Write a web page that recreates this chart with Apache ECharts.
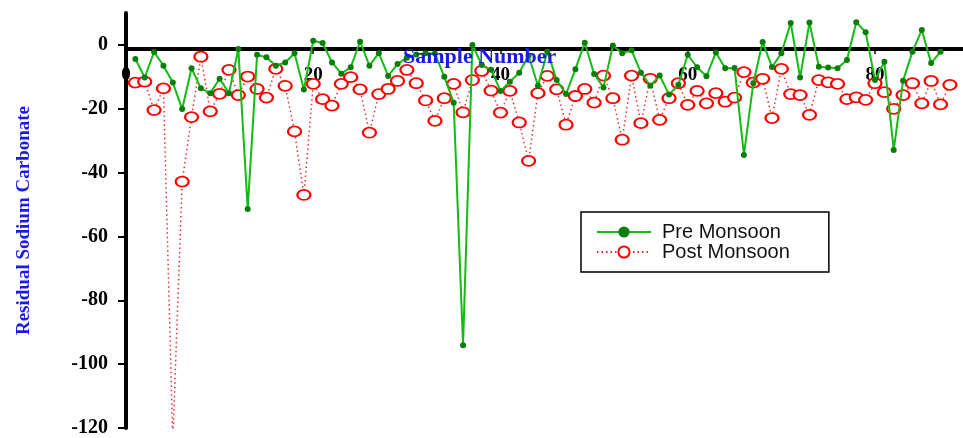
<!DOCTYPE html>
<html>
<head>
<meta charset="utf-8">
<script src="https://cdn.jsdelivr.net/npm/echarts@6/dist/echarts.min.js"></script>
<style>html,body{margin:0;padding:0;background:#fff}#c{width:963px;height:438px}</style>
</head>
<body>
<div id="c"></div>
<script>
// Residual Sodium Carbonate values (sample 1..n)
const preMonsoon = [
  -4.4, -10.2, -2.2, -6.5, -11.8, -20.1, -7.3, -13.6, -15.1, -10.6,
  -15.1, -1.3, -51.4, -3.1, -3.9, -6.5, -5.5, -2.6, -14.0, 1.3,
  0.6, -5.5, -9.0, -7.0, 1.0, -6.5, -2.6, -9.7, -6.0, -4.0,
  -3.0, -2.6, -2.7, -10.0, -18.1, -94.1, 0.0, -6.3, -7.8, -14.4,
  -11.5, -8.7, -3.3, -12.8, -2.1, -11.0, -15.4, -7.6, 0.7, -9.1,
  -13.3, -0.2, -2.6, -1.7, -8.7, -12.8, -9.6, -15.5, -12.5, -3.1,
  -7.0, -9.8, -2.4, -7.3, -7.2, -34.5, -12.0, 0.9, -6.9, -2.6,
  6.9, -10.2, 7.0, -6.8, -7.1, -7.3, -4.7, 7.1, 4.0, -11.0,
  -5.3, -32.9, -11.2, -2.1, 4.7, -5.7, -2.1
];
const postMonsoon = [
  -11.8, -11.5, -20.4, -13.6, -124, -42.8, -22.6, -3.7, -20.8, -15.3,
  -7.8, -15.7, -9.9, -13.8, -16.5, -7.5, -12.8, -27.1, -47.0, -12.2,
  -17.0, -19.0, -12.2, -10.1, -13.9, -27.5, -15.4, -13.8, -11.3, -7.8,
  -12.0, -17.4, -23.8, -16.7, -12.2, -21.1, -11.0, -8.1, -14.3, -21.2,
  -14.4, -24.3, -36.3, -15.1, -9.7, -13.9, -25.0, -16.0, -13.8, -18.1,
  -9.6, -16.7, -29.7, -9.6, -24.5, -10.6, -23.5, -16.7, -12.0, -18.8,
  -14.4, -18.3, -15.1, -17.8, -16.5, -8.5, -11.8, -10.6, -22.9, -7.5,
  -15.4, -15.7, -21.9, -11.0, -11.7, -12.2, -17.0, -16.4, -17.2, -12.0,
  -14.8, -20.0, -15.7, -12.0, -18.3, -11.3, -18.6, -12.5
];
const xTickLabels = [0, 20, 40, 60, 80];
const yTickLabels = [-120, -100, -80, -60, -40, -20, 0];

const toPairs = arr => arr.map((v, i) => [i + 1, v]);

const chart = echarts.init(document.getElementById('c'), null, {renderer: 'canvas'});
chart.setOption({
  animation: false,
  backgroundColor: '#ffffff',
  grid: {left: 126, right: 0, top: 13, bottom: 9.7, containLabel: false},
  title: {
    text: 'Sample Number',
    left: 398, top: 41,
    textStyle: {fontFamily: 'Liberation Serif', fontWeight: 'bold', fontSize: 22, color: '#1a1ae0'}
  },
  legend: {
    orient: 'vertical',
    left: 581, top: 212,
    padding: [10, 39, 10, 15],
    itemWidth: 54, itemHeight: 14, itemGap: 0,
    borderColor: '#000', borderWidth: 1.5,
    backgroundColor: '#fff',
    textStyle: {fontFamily: 'Liberation Sans', fontSize: 20, color: '#111', lineHeight: 20, padding: [0, 0, 0, 6]},
    data: ['Pre Monsoon', 'Post Monsoon']
  },
  xAxis: {
    type: 'value',
    position: 'top',
    offset: -36,
    min: 0, max: 89.4, interval: 20,
    splitLine: {show: false},
    axisLine: {onZero: false, lineStyle: {color: '#000', width: 4}},
    axisTick: {inside: true, length: 5, lineStyle: {color: '#000', width: 1.5}, customValues: xTickLabels},
    axisLabel: {
      inside: true, margin: 17, customValues: xTickLabels,
      formatter: v => (v % 20 === 0 ? String(v) : ''),
      fontFamily: 'Liberation Serif', fontWeight: 'bold', fontSize: 19, color: '#000'
    }
  },
  yAxis: {
    type: 'value',
    min: -120, max: 10, interval: 20,
    splitLine: {show: false},
    name: 'Residual Sodium Carbonate',
    nameLocation: 'middle',
    nameGap: 92,
    nameTextStyle: {fontFamily: 'Liberation Serif', fontWeight: 'bold', fontSize: 19, color: '#1a1ae0'},
    axisLine: {show: true, onZero: false, lineStyle: {color: '#000', width: 4}},
    axisTick: {show: true, length: 8, lineStyle: {color: '#000', width: 2}, customValues: yTickLabels},
    axisLabel: {
      margin: 18, customValues: yTickLabels,
      formatter: v => (v % 20 === 0 ? String(v) : ''),
      fontFamily: 'Liberation Serif', fontWeight: 'bold', fontSize: 20, color: '#000'
    }
  },
  series: [
    {
      name: 'Pre Monsoon',
      type: 'line',
      data: toPairs(preMonsoon),
      symbol: 'circle', symbolSize: 6,
      lineStyle: {color: '#14bb14', width: 2},
      itemStyle: {color: '#0b7d0b'},
      z: 3
    },
    {
      name: 'Post Monsoon',
      type: 'line',
      data: toPairs(postMonsoon),
      symbol: 'circle', symbolSize: [13, 10],
      showAllSymbol: true,
      lineStyle: {color: '#e03030', width: 1.5, type: [1.5, 3]},
      itemStyle: {color: '#ffffff', borderColor: '#ff0000', borderWidth: 2},
      z: 2
    }
  ]
});
</script>
</body>
</html>
